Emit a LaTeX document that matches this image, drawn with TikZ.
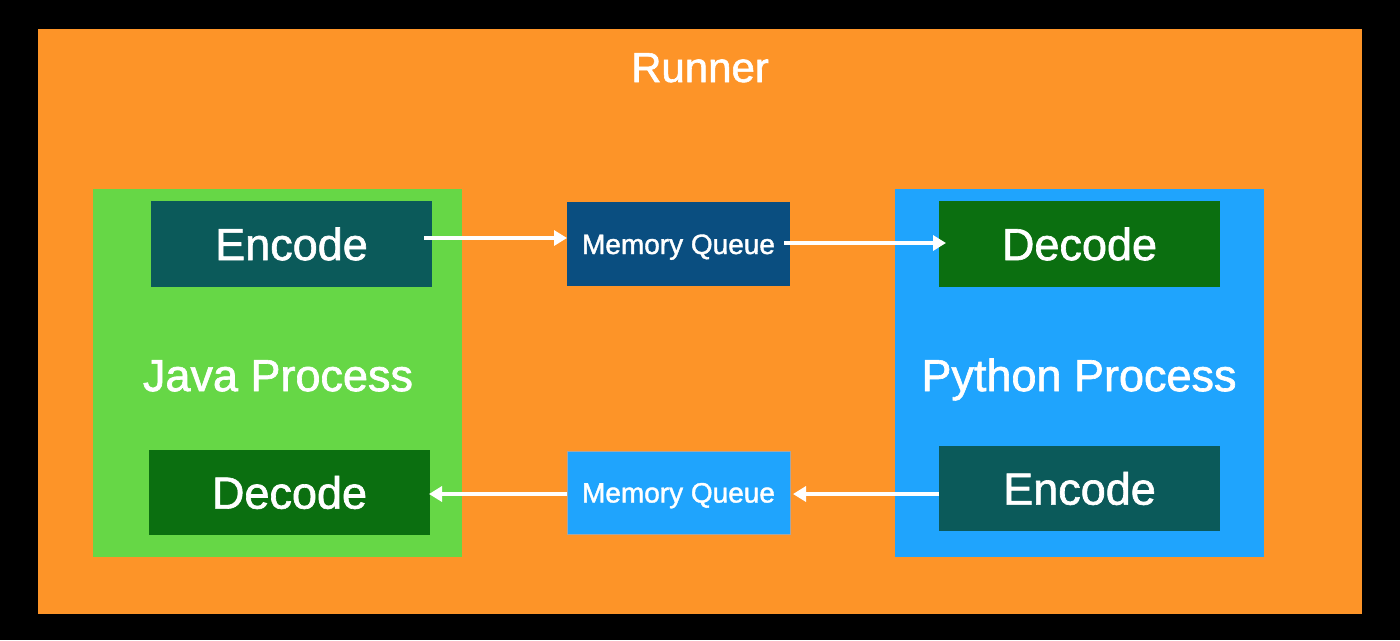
\documentclass[tikz,border=0pt]{standalone}
\usepackage{fontspec}
\setmainfont{Liberation Sans}[FakeBold=1.4]
\usetikzlibrary{arrows.meta,calc}
\definecolor{bg}{HTML}{000000}
\definecolor{runner}{HTML}{FD9428}
\definecolor{javag}{HTML}{66D746}
\definecolor{pyblue}{HTML}{1FA4FD}
\definecolor{encc}{HTML}{0B5A5A}
\definecolor{decc}{HTML}{0B6F10}
\definecolor{mqdark}{HTML}{0A4E80}
\tikzset{
  box/.style={draw=none,inner sep=0pt,outer sep=0pt},
  big/.style={text=white,font=\fontsize{45}{54}\selectfont,text height=32.2pt,text depth=0pt},
  small/.style={text=white,font=\fontsize{28}{34}\selectfont,text height=20pt,text depth=0pt},
  flow/.style={draw=white,line width=3.6pt,-{Triangle[length=13pt,width=15pt]}},
}
\begin{document}
\begin{tikzpicture}[x=1pt,y=-1pt]
\fill[bg] (0,0) rectangle (1400,640);
\useasboundingbox (0,0) rectangle (1400,640);
\node[box,fill=runner,minimum width=1324pt,minimum height=585pt,anchor=north west] (runner) at (38,29) {};
\node[big,font=\fontsize{42}{50}\selectfont,text height=30pt] (runnerlbl) at (700,67) {Runner};
% process boxes
\node[box,fill=javag,minimum width=369pt,minimum height=368pt,anchor=north west] (java) at (93,189) {};
\node[box,fill=pyblue,minimum width=369pt,minimum height=368pt,anchor=north west] (py) at (895,189) {};
\node[big] (javalbl) at (278,375) {Java Process};
\node[big] (pylbl) at (1079,375) {Python Process};
% inner boxes
\node[box,fill=encc,minimum width=281pt,minimum height=86pt,big] (jenc) at (291.5,244) {Encode};
\node[box,fill=decc,minimum width=281pt,minimum height=85pt,big] (jdec) at (289.5,492.5) {Decode};
\node[box,fill=decc,minimum width=281pt,minimum height=86pt,big] (pdec) at (1079.5,244) {Decode};
\node[box,fill=encc,minimum width=281pt,minimum height=85pt,big] (penc) at (1079.5,488.5) {Encode};
% memory queues
\node[box,fill=mqdark,minimum width=223pt,minimum height=84pt,small] (mqa) at (678.5,244) {Memory Queue};
\node[box,fill=pyblue,draw=gray!70,line width=0.8pt,minimum width=223pt,minimum height=83pt,small] (mqb) at (678.5,492.5) {Memory Queue};
% arrows
\draw[flow] ($(jenc.east)+(-8,-6)$) -- ($(mqa.west)+(0,-6)$);
\draw[flow] ($(mqa.east)+(-6,-1)$) -- ($(pdec.west)+(7,-1)$);
\draw[flow] ($(penc.west)+(0,5.5)$) -- ($(mqb.east)+(3,1.5)$);
\draw[flow] ($(mqb.west)+(0,1.5)$) -- ($(jdec.east)+(-1,1.5)$);
\end{tikzpicture}
\end{document}
